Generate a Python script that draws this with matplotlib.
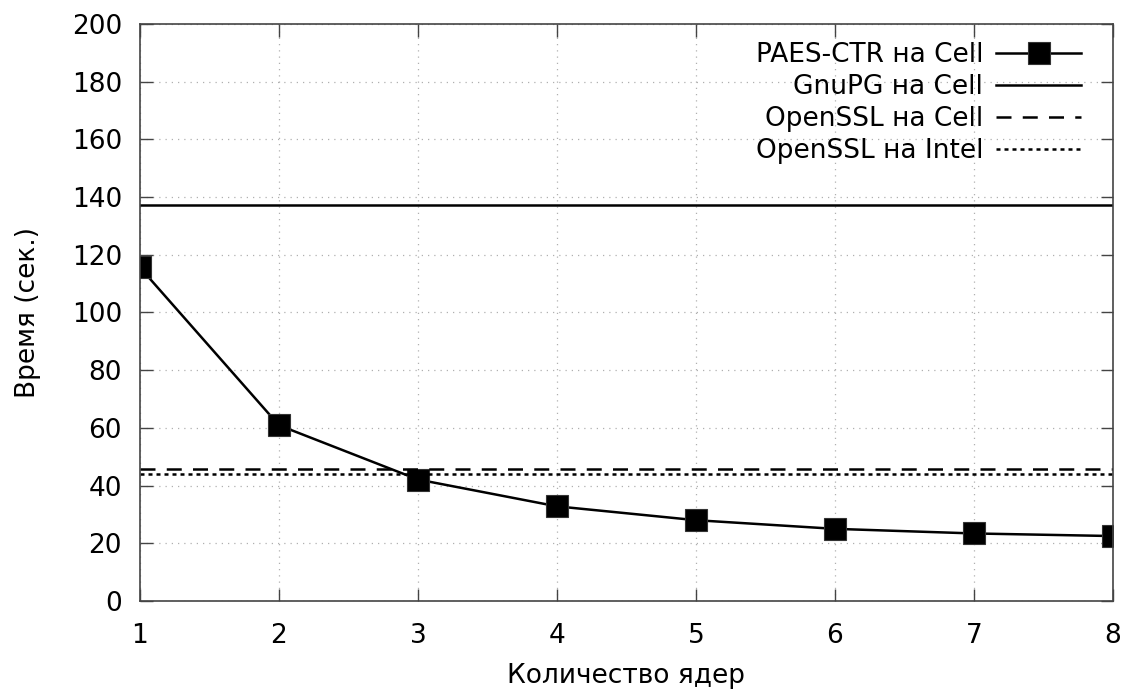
import matplotlib
matplotlib.use("Agg")
import matplotlib.pyplot as plt

# data
cores = [1, 2, 3, 4, 5, 6, 7, 8]
paes_ctr_cell = [115.6, 60.9, 42.1, 32.8, 28.0, 25.0, 23.4, 22.5]
gnupg_cell = 137.2
openssl_cell = 45.6
openssl_intel = 43.9

x_ticks = [1, 2, 3, 4, 5, 6, 7, 8]
y_ticks = [0, 20, 40, 60, 80, 100, 120, 140, 160, 180, 200]

plt.rcParams['font.family'] = ['DejaVu Sans']
fs = 19

fig = plt.figure(figsize=(11.25, 6.95), dpi=100)
ax = fig.add_axes([0.1244, 0.1353, 0.8649, 0.8302])

ax.plot(cores, paes_ctr_cell, color='black', lw=1.8, marker='s', markersize=16,
        markeredgecolor='#333333', markeredgewidth=0.8,
        label='PAES-CTR на Cell')
ax.axhline(gnupg_cell, color='black', lw=1.8, label='GnuPG на Cell')
ax.axhline(openssl_cell, color='black', lw=1.8, linestyle=(0, (6, 4.5)),
           label='OpenSSL на Cell')
ax.axhline(openssl_intel, color='black', lw=1.8, linestyle=(0, (1.6, 1.6)),
           label='OpenSSL на Intel')

ax.set_xlim(1, 8)
ax.set_ylim(0, 200)
ax.set_xticks(x_ticks)
ax.set_yticks(y_ticks)
ax.tick_params(direction='in', length=9, width=1, top=True, right=True,
               labelsize=fs, color='#444444')
ax.tick_params(axis='x', pad=16)
ax.tick_params(axis='y', pad=13)
ax.grid(True, linestyle=(0, (1, 4)), color='#b0b0b0', lw=0.9)
for s in ax.spines.values():
    s.set_color('#444444')
    s.set_linewidth(1.2)

ax.set_xlabel('Количество ядер', fontsize=fs, labelpad=10)
ax.set_ylabel('Время (сек.)', fontsize=fs)
ax.yaxis.set_label_coords(-0.102, 0.5)

ax.legend(loc='upper right', frameon=False, markerfirst=False, fontsize=fs,
          handlelength=3.2, handletextpad=0.5, labelspacing=0.22,
          borderaxespad=0.4, borderpad=0.3, bbox_to_anchor=(0.986, 1.0))

fig.savefig('out.png', dpi=100)
